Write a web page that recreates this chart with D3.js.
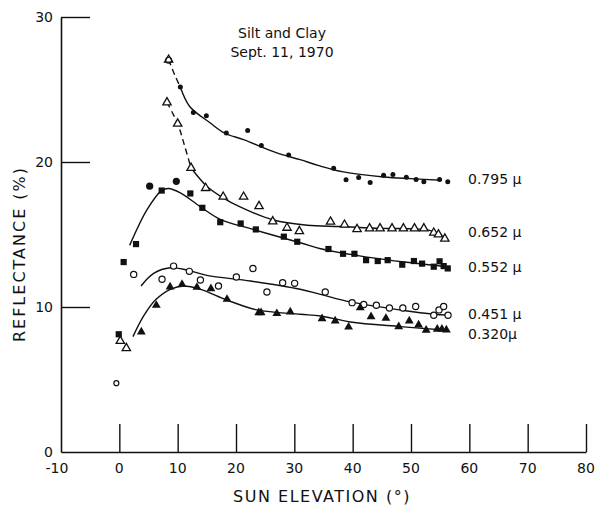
<!DOCTYPE html>
<html>
<head>
<meta charset="utf-8">
<script src="https://cdn.jsdelivr.net/npm/d3@7/dist/d3.min.js"></script>
<style>
  html, body { margin: 0; padding: 0; background: #fff; }
  svg text { font-family: "DejaVu Sans", "Liberation Sans", sans-serif; fill: #111; }
</style>
</head>
<body>
<svg id="chart" width="604" height="506"></svg>
<script>
// Reflectance of silt and clay vs. sun elevation, Sept. 11, 1970
const xTicks = [-10, 0, 10, 20, 30, 40, 50, 60, 70, 80];
const yTicks = [0, 10, 20, 30];
const wavelengths = ["0.795 μ", "0.652 μ", "0.552 μ", "0.451 μ", "0.320μ"];

// measured points [sun elevation (deg), reflectance (%)]
const obs795 = [[8.45,27.05],[10.46,25.17],[12.69,23.42],[14.92,23.19],[18.34,22.0],[22.0,22.18],[24.34,21.13],
  [29.03,20.49],[36.74,19.57],[38.86,18.77],[41.03,18.93],[43.0,18.58],[45.3,19.09],[46.9,19.13],[49.2,18.95],
  [50.87,18.79],[52.2,18.63],[54.9,18.79],[56.3,18.63]];
const obs652 = [[0.17,7.66],[1.2,7.16],[8.45,27.05],[8.17,24.11],[10.0,22.64],[12.29,19.59],[14.8,18.2],[17.8,17.6],
  [21.3,17.6],[23.95,16.95],[26.3,15.9],[28.75,15.46],[30.86,15.23],[36.2,15.88],[38.6,15.67],[40.75,15.37],
  [42.9,15.42],[44.7,15.42],[46.75,15.42],[48.7,15.42],[50.6,15.42],[52.2,15.42],[53.9,15.12],[54.7,15.0],[55.8,14.71]];
const obs552 = [[-0.1,8.12],[0.74,13.1],[2.86,14.34],[7.26,18.03],[12.17,17.83],[14.23,16.84],[17.3,15.85],
  [20.8,15.76],[23.4,15.35],[28.2,14.85],[30.5,14.5],[35.85,14.0],[38.35,13.67],[40.3,13.67],[42.3,13.23],
  [44.3,13.17],[46.0,13.23],[48.5,12.92],[50.5,13.17],[51.9,12.99],[53.9,12.78],[54.9,13.15],[55.6,12.82],[56.3,12.66]];
const obs552round = [[5.2,18.33],[9.77,18.67]];
const obs451 = [[-0.51,4.75],[2.46,12.25],[7.32,11.91],[9.3,12.82],[12.0,12.46],[13.9,11.86],[17.0,11.45],[20.06,12.07],
  [22.9,12.66],[25.3,11.03],[28.0,11.68],[30.05,11.63],[35.3,11.03],[39.9,10.3],[41.9,10.17],[44.06,10.12],
  [46.3,9.93],[48.6,9.93],[50.8,10.03],[53.9,9.43],[54.8,9.8],[55.6,10.03],[56.35,9.43]];
const obs320 = [[3.77,8.28],[6.34,10.12],[8.7,11.39],[10.75,11.56],[13.3,11.36],[15.7,11.27],[18.46,10.53],
  [23.9,9.61],[24.3,9.61],[27.0,9.55],[29.3,9.66],[34.75,9.2],[37.0,9.04],[39.3,8.62],[41.3,9.96],[43.15,9.34],
  [45.7,9.22],[47.9,8.65],[49.7,9.04],[51.3,8.76],[52.6,8.4],[54.5,8.47],[55.3,8.47],[56.06,8.42]];

// hand-fitted curves (dashed lead-in where the fit is uncertain)
const dash795 = [[8.45,27.05],[9.5,26.0],[10.46,25.17]];
const fit795 = [[10.46,25.17],[12.06,23.83],[15.6,22.69],[18,22.0],[21.3,21.54],[27,20.63],[31,20.16],
  [34.2,19.75],[38.4,19.32],[45.3,18.97],[50,18.85],[55.3,18.74]];
const dash652 = [[8.17,24.11],[10.0,22.64],[11.2,21.1],[12.29,19.59]];
const fit652 = [[12.29,19.59],[15,18.33],[17.5,17.6],[20.7,16.9],[26.4,16.0],[32.2,15.64],[37.9,15.55],
  [44.7,15.42],[50,15.4],[53,15.3],[55,15.0],[56.2,14.6]];
const fit552 = [[1.77,14.25],[4.75,16.72],[7.26,18.03],[8.45,18.17],[10.46,17.87],[13.9,16.91],[17.3,16.04],
  [22.5,15.4],[31.0,14.43],[34.5,14.02],[42.5,13.44],[50,13.05],[56.2,12.78]];
const fit451 = [[3.72,11.45],[5.88,12.32],[8.74,12.71],[11.6,12.55],[15.0,12.18],[22.5,11.79],[31.0,11.22],
  [34.5,10.87],[39.6,10.35],[48.2,9.79],[53.9,9.5],[56.2,9.45]];
const fit320 = [[2.34,7.96],[4.17,9.38],[6.17,10.48],[8.74,11.22],[11.0,11.45],[13.9,11.22],[18.46,10.48],
  [23.6,9.8],[31.0,9.5],[34.5,9.38],[39.6,8.97],[48.2,8.65],[56.2,8.4]];

// label positions in data units (right of the curves)
const labelY = [18.8, 15.2, 12.75, 9.55, 8.15];

const svg = d3.select("#chart");
const x = d3.scaleLinear().domain([-10, 80]).range([61, 586]);
const y = d3.scaleLinear().domain([0, 30]).range([452, 17]);

// axes: inward ticks
const gx = svg.append("g").attr("transform", `translate(0,${y(0)})`)
  .call(d3.axisBottom(x).tickValues(xTicks.slice(1)).tickSize(-28).tickSizeOuter(0).tickFormat(""));
const gy = svg.append("g").attr("transform", `translate(${x(-10)},0)`)
  .call(d3.axisLeft(y).tickValues(yTicks.slice(1)).tickSize(-29).tickSizeOuter(0).tickFormat(""));
[gx, gy].forEach(g => {
  g.selectAll("path.domain").attr("stroke", "#111").attr("stroke-width", 1.6);
  g.selectAll(".tick line").attr("stroke", "#111").attr("stroke-width", 1.4);
});

// tick labels
svg.append("g").selectAll("text").data(xTicks).join("text")
  .attr("x", d => x(d) - (d < 0 ? 4 : 0)).attr("y", 473)
  .attr("text-anchor", "middle").attr("font-size", 14).text(d => d);
svg.append("g").selectAll("text").data(yTicks).join("text")
  .attr("x", 53).attr("y", d => y(d) + 5)
  .attr("text-anchor", "end").attr("font-size", 14).text(d => d);

// axis titles
svg.append("text").attr("x", 322).attr("y", 502).attr("text-anchor", "middle")
  .attr("font-size", 16).attr("letter-spacing", 1.5).text("SUN ELEVATION (°)");
svg.append("text").attr("transform", "translate(25,254) rotate(-90)").attr("text-anchor", "middle")
  .attr("font-size", 16).attr("letter-spacing", 2).text("REFLECTANCE (%)");

// title block
svg.append("text").attr("x", 282).attr("y", 38).attr("text-anchor", "middle").attr("font-size", 14).text("Silt and Clay");
svg.append("text").attr("x", 282).attr("y", 57).attr("text-anchor", "middle").attr("font-size", 14).text("Sept. 11, 1970");

// fitted curves
const line = d3.line().x(d => x(d[0])).y(d => y(d[1])).curve(d3.curveCatmullRom.alpha(0.5));
const curves = svg.append("g").attr("fill", "none").attr("stroke", "#111").attr("stroke-width", 1.4);
[fit795, fit652, fit552, fit451, fit320].forEach(f => curves.append("path").attr("d", line(f)));
[dash795, dash652].forEach(f => curves.append("path").attr("d", line(f)).attr("stroke-dasharray", "6,4"));

// markers
const marks = svg.append("g");
const tri = d3.symbol().type(d3.symbolTriangle);
marks.selectAll(".s795").data(obs795).join("circle")
  .attr("cx", d => x(d[0])).attr("cy", d => y(d[1])).attr("r", 2.5).attr("fill", "#111");
marks.selectAll(".s652").data(obs652).join("path")
  .attr("transform", d => `translate(${x(d[0])},${y(d[1])})`).attr("d", tri.size(30)())
  .attr("fill", "#fff").attr("stroke", "#111").attr("stroke-width", 1.3);
marks.selectAll(".s552").data(obs552).join("rect")
  .attr("x", d => x(d[0]) - 3.1).attr("y", d => y(d[1]) - 3.1).attr("width", 6.2).attr("height", 6.2).attr("fill", "#111");
marks.selectAll(".s552r").data(obs552round).join("circle")
  .attr("cx", d => x(d[0])).attr("cy", d => y(d[1])).attr("r", 3.6).attr("fill", "#111");
marks.selectAll(".s451").data(obs451).join("circle")
  .attr("cx", d => x(d[0])).attr("cy", d => y(d[1])).attr("r", (d, i) => i === 0 ? 2.5 : 3.1)
  .attr("fill", "#fff").attr("stroke", "#111").attr("stroke-width", 1.2);
marks.selectAll(".s320").data(obs320).join("path")
  .attr("transform", d => `translate(${x(d[0])},${y(d[1])})`).attr("d", tri.size(34)())
  .attr("fill", "#111");
// overlapping open circle at the shared first point
marks.append("circle").attr("cx", x(obs795[0][0])).attr("cy", y(obs795[0][1]) + 0.5).attr("r", 3)
  .attr("fill", "none").attr("stroke", "#111").attr("stroke-width", 1.1);

// wavelength labels
svg.append("g").selectAll("text").data(wavelengths).join("text")
  .attr("x", 468).attr("y", (d, i) => y(labelY[i]) + 5)
  .attr("font-size", 14).text(d => d);
</script>
</body>
</html>
